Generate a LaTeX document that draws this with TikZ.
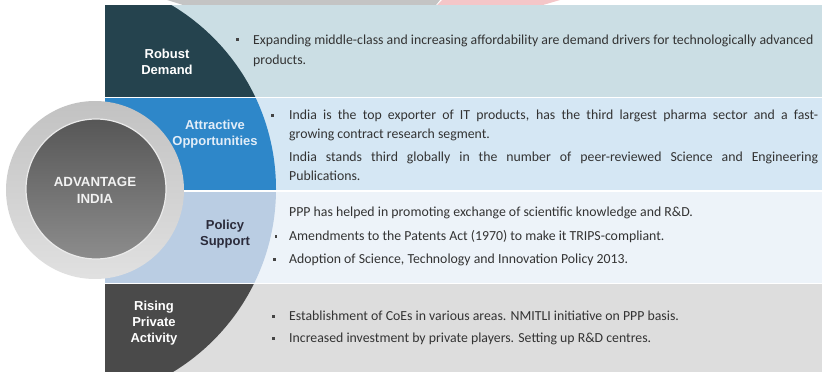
\documentclass[tikz,border=0pt]{standalone}
\usepackage{fontspec}
\setmainfont{Carlito}
\newfontfamily\labfont{Liberation Sans}
\definecolor{b1}{HTML}{CBDEE4}
\definecolor{l1}{HTML}{25434E}
\definecolor{b2}{HTML}{D5E7F4}
\definecolor{l2}{HTML}{2E87C9}
\definecolor{b3}{HTML}{EDF3F9}
\definecolor{l3}{HTML}{BACDE3}
\definecolor{b4}{HTML}{DDDDDD}
\definecolor{l4}{HTML}{4A4A4A}
\definecolor{txt}{HTML}{333333}
\definecolor{bulc}{HTML}{444444}
\definecolor{topgrey}{HTML}{C4C4C4}
\definecolor{toppink}{HTML}{F4C6C8}
\definecolor{plab}{HTML}{2B2B3B}
\definecolor{alab}{HTML}{E2EDF8}
\begin{document}
\begin{tikzpicture}[x=1pt,y=-1pt,
  lab/.style={font=\labfont\bfseries\fontsize{13}{16.5}\selectfont, align=center, text=white, inner sep=0pt},
  body/.style={font=\fontsize{13.8}{16}\selectfont, text=txt, anchor=base west, inner sep=0pt},
  bul/.style={fill=bulc, minimum size=3pt, inner sep=0pt}
]
\useasboundingbox (0,0) rectangle (822,372);
% remnants at the top edge
\fill[topgrey] (167,0) -- (440,0) -- (436,5) -- (183,5) .. controls (175,3) .. (167,0) -- cycle;
\fill[toppink] (442,0) -- (560,0) -- (543,5) -- (437,5) -- cycle;
% bands
\fill[b1] (105,5) rectangle (822,96.5);
\fill[b2] (105,98) rectangle (822,190);
\fill[b3] (105,191.5) rectangle (822,282.5);
\fill[b4] (105,284) rectangle (822,372);
\begin{scope}
  \clip (62,189) circle (214pt);
  \fill[l1] (105,5) rectangle (300,96.5);
  \fill[l2] (105,98) rectangle (300,190);
  \fill[l3] (105,191.5) rectangle (300,282.5);
  \fill[l4] (105,284) rectangle (300,372);
\end{scope}
% central circle
\shade[top color=black!24, bottom color=black!12] (95,190) circle (89pt);
\shade[top color=black!66, bottom color=black!45, draw=black!8, line width=1.2pt] (96,189) circle (70pt);
\node[lab, font=\labfont\bfseries\fontsize{13.3}{17}\selectfont, text=black!5] (adv) at (95,190) {ADVANTAGE\\INDIA};
% labels
\node[lab] (rd) at (167,62) {Robust\\Demand};
\node[lab, text=alab] (ao) at (215,134) {Attractive\\Opportunities};
\node[lab, text=plab] (ps) at (225,234) {Policy\\Support};
\node[lab, font=\labfont\bfseries\fontsize{13}{16}\selectfont] (rp) at (154,323) {Rising\\Private\\Activity};
% band 1
\node[bul] (u1) at (237,39) {};
\node[body] (t1a) at (253,44) {Expanding middle-class and increasing affordability are demand drivers for technologically advanced};
\node[body] (t1b) at (253,64) {products.};
% band 2
\node[bul] (u2) at (272,115) {};
\node[body] (t2a) at (289,119) {\makebox[529pt][s]{India is the top exporter of IT products, has the third largest pharma sector and a fast-}};
\node[body] (t2b) at (289,138) {growing contract research segment.};
\node[body] (t2c) at (289,161) {\makebox[529pt][s]{India stands third globally in the number of peer-reviewed Science and Engineering}};
\node[body] (t2d) at (289,180) {Publications.};
% band 3
\node[body] (t3a) at (289,216) {PPP has helped in promoting exchange of scientific knowledge and R\&D.};
\node[fill=bulc, minimum width=1.2pt, minimum height=3pt, inner sep=0pt] (u3a) at (276,236) {};
\node[body] (t3b) at (289,240) {Amendments to the Patents Act (1970) to make it TRIPS-compliant.};
\node[bul] (u3b) at (274,259) {};
\node[body] (t3c) at (289,263) {Adoption of Science, Technology and Innovation Policy 2013.};
% band 4
\node[bul] (u4a) at (273,316) {};
\node[body] (t4a) at (289,320) {Establishment of CoEs in various areas. NMITLI initiative on PPP basis.};
\node[bul] (u4b) at (273,338) {};
\node[body] (t4b) at (289,342) {Increased investment by private players. Setting up R\&D centres.};
\end{tikzpicture}
\end{document}
